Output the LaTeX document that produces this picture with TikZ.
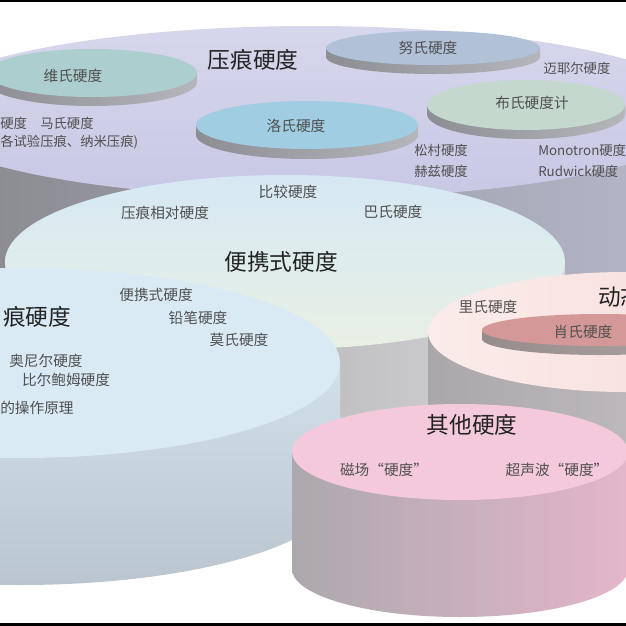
\documentclass[tikz,border=0pt]{standalone}
\usepackage{fontspec}
\usepackage{xcolor}
\newfontfamily\cjk{Noto Sans CJK SC}
\definecolor{inkdark}{RGB}{35,35,35}
\definecolor{inkgrey}{RGB}{80,80,80}
\definecolor{lavtop}{RGB}{200,200,229}
\definecolor{lavlight}{RGB}{214,214,236}
\definecolor{lavsideA}{RGB}{135,135,140}
\definecolor{lavsideB}{RGB}{182,185,204}
\definecolor{vickers}{RGB}{172,206,206}
\definecolor{knoop}{RGB}{176,193,216}
\definecolor{rockwell}{RGB}{160,205,226}
\definecolor{brinell}{RGB}{196,216,206}
\definecolor{discA}{RGB}{140,142,148}
\definecolor{discB}{RGB}{180,182,188}
\definecolor{porttopA}{RGB}{214,232,244}
\definecolor{porttopB}{RGB}{232,240,228}
\definecolor{portsideA}{RGB}{160,160,164}
\definecolor{portsideB}{RGB}{215,215,217}
\definecolor{scratchtop}{RGB}{218,234,245}
\definecolor{scratchsideA}{RGB}{210,224,234}
\definecolor{scratchsideB}{RGB}{186,197,207}
\definecolor{dyntopA}{RGB}{251,236,233}
\definecolor{dyntopB}{RGB}{246,218,218}
\definecolor{dynsideA}{RGB}{170,167,170}
\definecolor{dynsideB}{RGB}{205,200,203}
\definecolor{shoretop}{RGB}{212,152,152}
\definecolor{shoresideA}{RGB}{150,140,140}
\definecolor{shoresideB}{RGB}{175,165,165}
\definecolor{othertop}{RGB}{243,201,219}
\definecolor{othersideA}{RGB}{172,168,173}
\definecolor{othersideB}{RGB}{228,182,202}

% drum: centre x, centre y, x radius, y radius, height, top look, side look
\newcommand{\hdrum}[7]{%
  \pgfmathsetlengthmacro\drx{#3*0.75pt}%
  \pgfmathsetlengthmacro\dry{#4*0.75pt}%
  \path[#7] (#1-#3,#2) -- ++(0,#5) arc[start angle=180, end angle=360, x radius=\drx, y radius=\dry] -- (#1+#3,#2) -- cycle;
  \path[#6] (#1,#2) ellipse[x radius=\drx, y radius=\dry];
}

\begin{document}
\begin{tikzpicture}[
    x=0.75pt, y=-0.75pt,
    biglabel/.style={font=\cjk\fontsize{17}{20}\selectfont, text=inkdark, inner sep=0pt},
    smalllabel/.style={font=\cjk\fontsize{11}{13}\selectfont, text=inkgrey, inner sep=0pt},
    tinylabel/.style={font=\cjk\fontsize{10}{12}\selectfont, text=inkgrey, inner sep=0pt}
]
\useasboundingbox (0,0) rectangle (626,626);
\fill[white] (0,0) rectangle (626,626);
\clip (0,0) rectangle (626,626);

% Indentation hardness (back drum)
\hdrum{310}{112}{400}{86}{160}{top color=lavlight, bottom color=lavtop}{left color=lavsideA, right color=lavsideB}

% Discs on the indentation drum
\hdrum{433}{48}{107}{17}{9}{fill=knoop}{left color=discA, right color=discB}
\hdrum{92}{73}{105}{24}{9}{fill=vickers}{left color=discA, right color=discB}
\hdrum{526}{105}{99}{25}{9}{fill=brinell}{left color=discA, right color=discB}
\hdrum{307}{125}{111}{24}{10}{fill=rockwell}{left color=discA, right color=discB}

\node[biglabel] (indent) at (253,60) {压痕硬度};
\node[smalllabel] (knoopl) at (428,48) {努氏硬度};
\node[tinylabel] (meyer) at (577,68) {迈耶尔硬度};
\node[smalllabel] (vickersl) at (73,76) {维氏硬度};
\node[smalllabel] (brinelll) at (532,103) {布氏硬度计};
\node[smalllabel] (rockwelll) at (296,126) {洛氏硬度};
\node[tinylabel, anchor=west] (martens) at (0,123) {硬度\quad 马氏硬度};
\node[tinylabel, anchor=west] (nano) at (0,142) {各试验压痕、纳米压痕)};
\node[tinylabel] (matsumura) at (441,150) {松村硬度};
\node[tinylabel] (hertz) at (441,171) {赫兹硬度};
\node[tinylabel, anchor=west] (monotron) at (538,150) {Monotron硬度};
\node[tinylabel, anchor=west] (rudwick) at (538,171) {Rudwick硬度};

% Portable hardness
\hdrum{285}{262}{280}{87}{130}{top color=porttopA, bottom color=porttopB}{left color=portsideA, right color=portsideB}
\node[smalllabel] (compare) at (288,192) {比较硬度};
\node[smalllabel] (relative) at (165,213) {压痕相对硬度};
\node[smalllabel] (barcol) at (393,212) {巴氏硬度};
\node[biglabel] (portable) at (281,262) {便携式硬度};

% Dynamic hardness
\hdrum{625}{332}{197}{60}{72}{left color=dyntopA, right color=dyntopB}{left color=dynsideA, right color=dynsideB}
\hdrum{600}{330}{118}{16}{9}{fill=shoretop}{left color=shoresideA, right color=shoresideB}
\node[smalllabel] (leeb) at (488,307) {里氏硬度};
\node[biglabel, anchor=west] (dynamic) at (598,297) {动态硬度};
\node[smalllabel] (shore) at (583,332) {肖氏硬度};

% Scratch hardness
\hdrum{20}{363}{320}{95}{127}{fill=scratchtop}{top color=scratchsideA, bottom color=scratchsideB}
\node[biglabel, anchor=west] (scratch) at (3,317) {痕硬度};
\node[smalllabel] (portsmall) at (156,295) {便携式硬度};
\node[smalllabel] (pencil) at (198,318) {铅笔硬度};
\node[smalllabel] (mohs) at (239,340) {莫氏硬度};
\node[smalllabel] (oneill) at (46,361) {奥尼尔硬度};
\node[smalllabel] (bierbaum) at (66,380) {比尔鲍姆硬度};
\node[smalllabel, anchor=west] (principle) at (0,408) {的操作原理};

% Other hardness
\hdrum{460}{452}{168}{48}{117}{fill=othertop}{left color=othersideA, right color=othersideB}
\node[biglabel] (other) at (472,425) {其他硬度};
\node[smalllabel] (magnetic) at (384,470) {磁场“硬度”};
\node[smalllabel] (ultrasonic) at (557,470) {超声波“硬度”};

% Black edges
\fill[black] (0,0) rectangle (626,1.5);
\fill[black] (0,623) rectangle (626,626);
\end{tikzpicture}
\end{document}
